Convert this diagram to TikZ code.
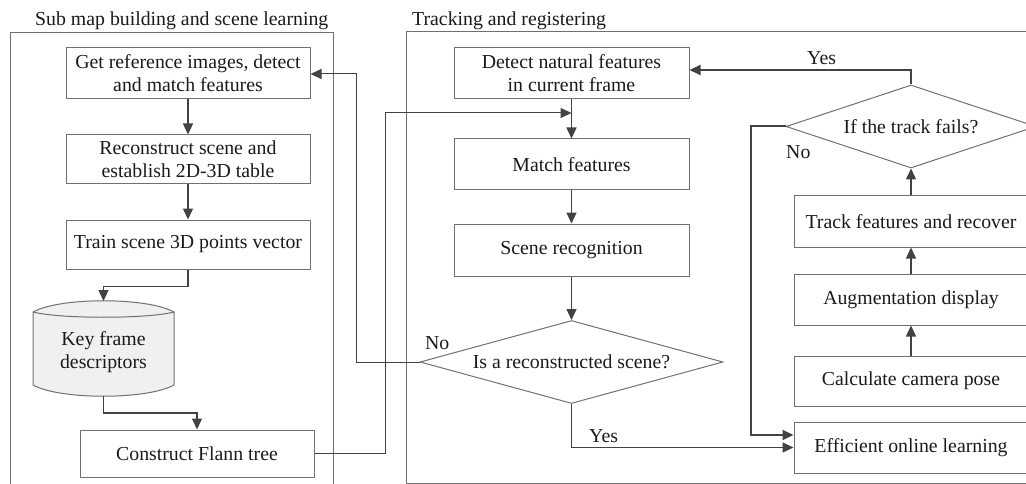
\documentclass[tikz,border=0pt]{standalone}
\usepackage{fontspec}
\setmainfont{Liberation Serif}
\usetikzlibrary{shapes.geometric,arrows.meta}
\definecolor{edge}{HTML}{707070}
\definecolor{wire}{HTML}{424242}
\definecolor{ink}{HTML}{1A1A1A}
\definecolor{store}{HTML}{F0F0F0}
\begin{document}
\begin{tikzpicture}[x=1pt,y=-1pt,
  font=\fontsize{19.8}{23}\selectfont, text=ink,
  frame/.style={draw=edge, line width=1pt},
  box/.style={draw=edge, line width=1pt, rectangle, align=center,
    inner sep=0pt, minimum width=#1},
  box/.default=244pt,
  decision/.style={draw=edge, line width=1pt, diamond, inner sep=0pt, aspect=3.5},
  conn/.style={draw=wire, line width=1.3pt,
    -{Triangle[length=11pt,width=10pt]}},
  thinconn/.style={conn, line width=1pt},
  thickconn/.style={conn, line width=2pt},
  tag/.style={anchor=base west, inner sep=0pt},
]
\useasboundingbox (0,0) rectangle (1026,484);
\clip (0,0) rectangle (1026,484);

% swim lanes
\draw[frame] (10,33) rectangle (333,495);
\draw[frame] (406,32) rectangle (1040,483);
\node[tag] (lane1) at (35,26) {Sub map building and scene learning};
\node[tag] (lane2) at (412,26) {Tracking and registering};

% sub map building column
\node[box, minimum height=51pt] (b1) at (188,73.5) {Get reference images, detect\\and match features};
\node[box, minimum height=49pt] (b2) at (188,159.5) {Reconstruct scene and\\establish 2D-3D table};
\node[box, minimum height=49pt] (b3) at (188,244.5) {Train scene 3D points vector};

% key frame store
\draw[draw=edge, line width=1pt, fill=store]
  (33,312) .. controls (60,297) and (147,297) .. (174,312) -- (174,385)
  .. controls (147,400) and (60,400) .. (33,385) -- cycle;
\draw[draw=edge, line width=1pt]
  (33,312) .. controls (60,319) and (147,319) .. (174,312);
\node[align=center, inner sep=0pt] (kf) at (103.5,352) {Key frame\\descriptors};
\coordinate (kftop) at (103.5,301);
\coordinate (kfbot) at (103.5,396);

\node[box=234pt, minimum height=47pt] (flann) at (197,453.5) {Construct Flann tree};

% tracking column
\node[box=235pt, minimum height=51pt] (detect) at (571.5,73.5) {Detect natural features\\in current frame};
\node[box=235pt, minimum height=51pt] (match) at (571.5,164.5) {Match features};
\node[box=235pt, minimum height=52pt] (scene) at (571.5,250) {Scene recognition};
\node[decision, minimum width=303pt, minimum height=83pt] (d1) at (571.5,362) {Is a reconstructed scene?};
\coordinate (j1) at (571.5,113);

% right column
\node[decision, minimum width=250pt, minimum height=83pt, aspect=3] (d2) at (911,126.5) {If the track fails?};
\node[box=234pt, minimum height=51pt] (track) at (911,221.5) {Track features and recover};
\node[box=234pt, minimum height=51pt] (aug) at (911,299.5) {Augmentation display};
\node[box=234pt, minimum height=50pt] (calc) at (911,381) {Calculate camera pose};
\node[box=234pt, minimum height=51pt] (eff) at (911,447.5) {Efficient online learning};

% connectors, left lane
\draw[conn] (b1.south) -- (b2.north);
\draw[conn] (b2.south) -- (b3.north);
\draw[conn] (b3.south) -- ++(0,17) -| (kftop);
\draw[conn] (kfbot) -- ++(0,17) -| (flann.north);
\draw[thinconn] (flann.east) -- ++(71,0) |- (j1);

% connectors, tracking lane
\draw[conn] (detect.south) -- (match.north);
\draw[conn] (match.south) -- (scene.north);
\draw[conn] (scene.south) -- (d1.north);
\draw[thinconn] (d1.west) -- ++(-63,0) |- ([yshift=-0.5pt]b1.east);
\draw[conn] (d1.south) |- (eff.west);
\node[tag] (no1) at (425,349) {No};
\node[tag] (yes1) at (589,442) {Yes};

% connectors, right column
\draw[conn] (calc.north) -- (aug.south);
\draw[conn] (aug.north) -- (track.south);
\draw[conn] (track.north) -- (d2.south);
\draw[thickconn] (d2.north) |- ([yshift=3.5pt]detect.east);
\draw[thickconn] (d2.west) -- ++(-35,0) |- ([yshift=12.5pt]eff.west);
\node[tag] (yes2) at (807,65) {Yes};
\node[tag] (no2) at (786,159) {No};
\end{tikzpicture}
\end{document}
